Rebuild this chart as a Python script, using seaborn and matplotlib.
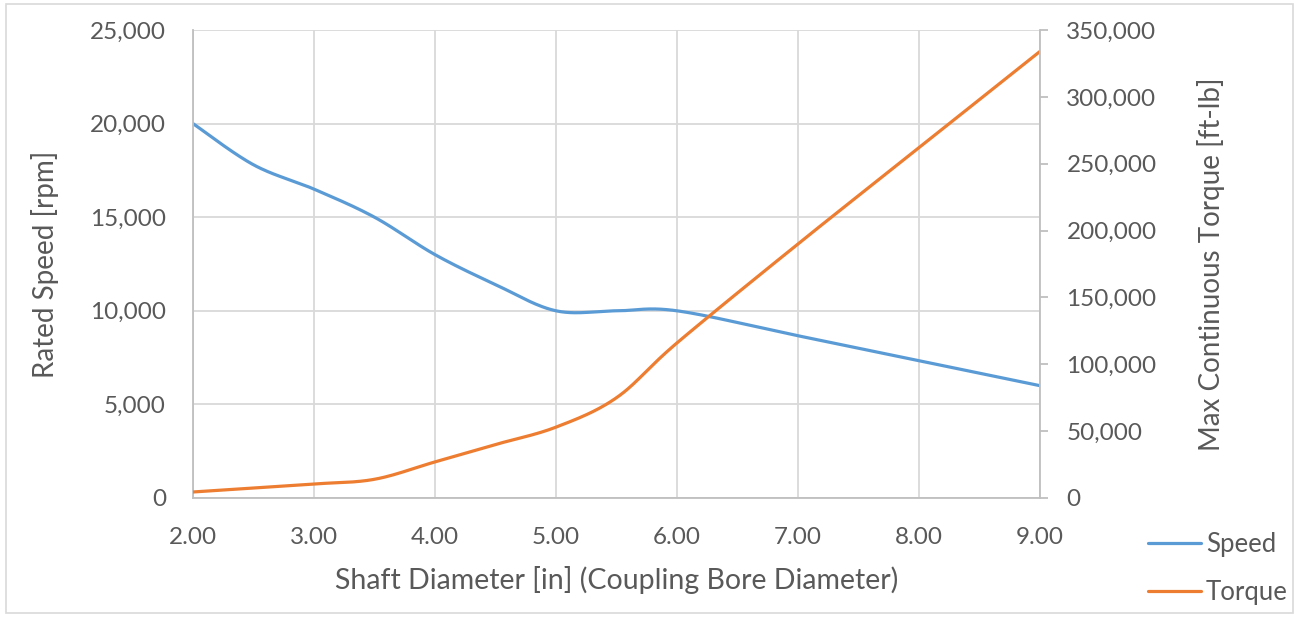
import numpy as np
import pandas as pd
import matplotlib
matplotlib.use("Agg")
import matplotlib.pyplot as plt
import matplotlib.patches as mpatches
from matplotlib.lines import Line2D
from matplotlib.ticker import FuncFormatter, MultipleLocator
import seaborn as sns

# Shaft diameter [in] and the rated values at each size
diameter = [2.0, 2.5, 3.0, 3.5, 4.0, 4.5, 5.0, 5.5, 6.0, 7.0, 8.0, 9.0]
speed = [20000, 17800, 16500, 15000, 13000, 11400, 10000, 10000, 10000, 8667, 7333, 6000]
torque = [4500, 7500, 10500, 14000, 27000, 40000, 53000, 75000, 116000, 190000, 262000, 334000]

BLUE = "#5B9BD5"
ORANGE = "#ED7D31"
TEXT = "#595959"
GRID = "#D9D9D9"
AXIS = "#BFBFBF"


def smooth(xs, ys, n=40):
    """Bezier smoothing through every point, control points at 1/6 of the neighbour span."""
    p = np.column_stack([xs, ys]).astype(float)
    pts = np.vstack([p[0], p, p[-1]])
    out = []
    t = np.linspace(0, 1, n)[:, None]
    for i in range(1, len(pts) - 2):
        p0, p1 = pts[i], pts[i + 1]
        c1 = p0 + (pts[i + 1] - pts[i - 1]) / 6
        c2 = p1 - (pts[i + 2] - pts[i]) / 6
        seg = ((1 - t) ** 3) * p0 + 3 * ((1 - t) ** 2) * t * c1 + 3 * (1 - t) * t ** 2 * c2 + t ** 3 * p1
        out.append(seg if i == 1 else seg[1:])
    arr = np.vstack(out)
    return arr[:, 0], arr[:, 1]


sx, sy = smooth(diameter, speed)
tx, ty = smooth(diameter, torque)
speed_df = pd.DataFrame({"Diameter": sx, "Speed": sy})
torque_df = pd.DataFrame({"Diameter": tx, "Torque": ty})

sns.set_theme(style="white")
plt.rcParams["font.family"] = ["Lato", "DejaVu Sans"]

fig = plt.figure(figsize=(12.99, 6.19), dpi=100)
ax = fig.add_axes([193 / 1299, 1 - 498 / 619, (1040 - 193) / 1299, (498 - 30) / 619])

sns.lineplot(data=speed_df, x="Diameter", y="Speed", ax=ax, color=BLUE, lw=2.3, sort=False)
ax2 = ax.twinx()
sns.lineplot(data=torque_df, x="Diameter", y="Torque", ax=ax2, color=ORANGE, lw=2.3, sort=False)

ax.set_xlim(2, 9)
ax.set_ylim(0, 25000)
ax2.set_ylim(0, 350000)
ax.xaxis.set_major_locator(MultipleLocator(1))
ax.yaxis.set_major_locator(MultipleLocator(5000))
ax2.yaxis.set_major_locator(MultipleLocator(50000))
ax.xaxis.set_major_formatter(FuncFormatter(lambda v, p: f"{v:.2f}"))
comma = FuncFormatter(lambda v, p: f"{v:,.0f}")
ax.yaxis.set_major_formatter(comma)
ax2.yaxis.set_major_formatter(comma)

ax.grid(True, color=GRID, lw=1.3)
ax.set_axisbelow(True)
for a in (ax, ax2):
    for s in a.spines.values():
        s.set_visible(False)
for side in ("left", "bottom"):
    ax.spines[side].set_visible(True)
    ax.spines[side].set_color(AXIS)
    ax.spines[side].set_linewidth(1.3)
ax2.spines["right"].set_visible(True)
ax2.spines["right"].set_color(AXIS)
ax2.spines["right"].set_linewidth(1.3)

ax.tick_params(axis="x", length=0, pad=21, labelsize=17.5, labelcolor=TEXT)
ax.tick_params(axis="y", length=0, pad=19.5, labelsize=17.5, labelcolor=TEXT)
ax2.tick_params(axis="y", length=5.5, width=1.3, color=AXIS, pad=13.5,
                labelsize=17.5, labelcolor=TEXT)

ax.set_xlabel("Shaft Diameter [in] (Coupling Bore Diameter)", fontsize=20.5, color=TEXT, labelpad=13)
ax.set_ylabel("Rated Speed [rpm]", fontsize=20, color=TEXT, labelpad=22)
ax2.set_ylabel("Max Continuous Torque [ft-lb]", fontsize=20, color=TEXT, labelpad=29)

handles = [Line2D([], [], color=BLUE, lw=2.3), Line2D([], [], color=ORANGE, lw=2.3)]
fig.legend(handles, ["Speed", "Torque"], loc="upper left", bbox_to_anchor=(1138 / 1299, 1 - 522 / 619),
           frameon=False, fontsize=18.5, labelcolor=TEXT, labelspacing=0.9, handlelength=2.05,
           handletextpad=0.2, borderaxespad=0)

fig.patches.append(mpatches.Rectangle((6 / 1299, 6 / 619), 1287 / 1299, 609 / 619,
                                      transform=fig.transFigure, fill=False,
                                      edgecolor="#D9D9D9", lw=1.2))

fig.savefig("out.png", dpi=100)
